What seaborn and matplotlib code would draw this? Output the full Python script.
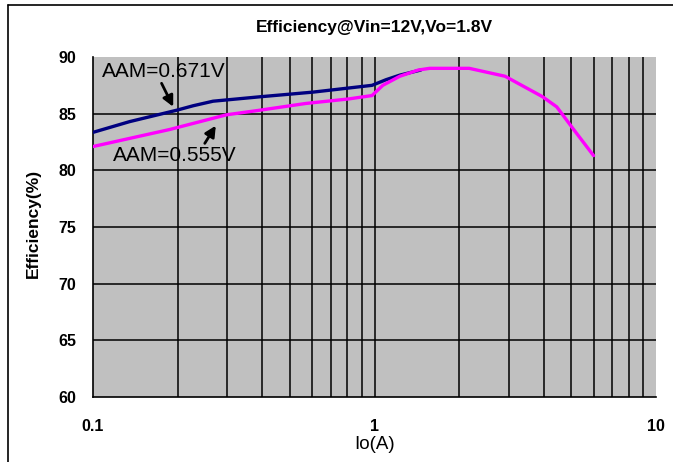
import numpy as np
import pandas as pd
import matplotlib
matplotlib.use("Agg")
import matplotlib.pyplot as plt
from matplotlib.lines import Line2D
import seaborn as sns

# Data
io_671 = [0.10, 0.135, 0.198, 0.227, 0.267, 0.396, 0.604, 0.98, 1.10, 1.23, 1.46]
eff_671 = [83.35, 84.3, 85.3, 85.7, 86.1, 86.5, 86.9, 87.5, 88.0, 88.4, 88.85]

io_555 = [0.10, 0.187, 0.298, 0.39, 0.57, 0.81, 0.98, 1.07, 1.23, 1.43, 1.57, 2.17, 2.91, 3.95, 4.44, 5.1, 6.0]
eff_555 = [82.1, 83.6, 84.9, 85.3, 85.9, 86.3, 86.6, 87.5, 88.3, 88.85, 89.0, 89.0, 88.3, 86.5, 85.6, 83.6, 81.3]

title = "Efficiency@Vin=12V,Vo=1.8V"
xlabel = "Io(A)"
ylabel = "Efficiency(%)"
xticks = [0.1, 1, 10]
xticklabels = ["0.1", "1", "10"]
yticks = [60, 65, 70, 75, 80, 85, 90]
label_671 = "AAM=0.671V"
label_555 = "AAM=0.555V"

sns.set_theme(style="white")
plt.rcParams["font.family"] = ["Liberation Sans", "DejaVu Sans"]
plt.rcParams["text.color"] = "black"
plt.rcParams["axes.labelcolor"] = "black"
plt.rcParams["xtick.color"] = "black"
plt.rcParams["ytick.color"] = "black"

df1 = pd.DataFrame({"io": io_671, "eff": eff_671})
df2 = pd.DataFrame({"io": io_555, "eff": eff_555})

fig = plt.figure(figsize=(6.73, 4.62), dpi=100)
ax = fig.add_axes([93 / 673, 1 - 397 / 462, (656 - 93) / 673, (397 - 57) / 462])
ax.set_facecolor("#C0C0C0")

ax.set_xscale("log")
ax.set_xlim(0.1, 10)
ax.set_ylim(60, 90)

# grid lines
for dec in [0.1, 1]:
    for m in range(1, 10):
        v = dec * m
        if v <= 0.1 or v >= 10:
            continue
        ax.axvline(v, color="black", lw=1.1, zorder=1)
for y in [65, 70, 75, 80, 85]:
    ax.axhline(y, color="black", lw=1.1, zorder=1)

sns.lineplot(data=df1, x="io", y="eff", ax=ax, color="#000080", lw=2.4, zorder=3)
sns.lineplot(data=df2, x="io", y="eff", ax=ax, color="#FF00FF", lw=2.4, zorder=4)

ax.set_xticks(xticks)
ax.set_xticklabels(xticklabels)
ax.xaxis.set_minor_locator(matplotlib.ticker.NullLocator())
ax.set_yticks(yticks)
ax.tick_params(axis="both", length=0, labelsize=11.5, colors="black")
ax.tick_params(axis="x", pad=16)
ax.tick_params(axis="y", pad=12)
for lab in ax.get_xticklabels() + ax.get_yticklabels():
    lab.set_fontweight("bold")

ax.set_xlabel(xlabel, fontsize=13.5, labelpad=1, color="black")
ax.set_ylabel(ylabel, fontsize=12.5, fontweight="bold", color="black")
ax.yaxis.set_label_coords(-0.093, 0.51)
ax.set_title(title, fontsize=12.5, fontweight="bold", pad=18, color="black")

for s in ["top", "right"]:
    ax.spines[s].set_visible(False)
for s in ["left", "bottom"]:
    ax.spines[s].set_color("black")
    ax.spines[s].set_linewidth(1.2)

# annotations
ax.text(0.1786, 88.7, label_671, fontsize=15, ha="center", va="center", zorder=6, color="black")
ax.text(0.195, 81.35, label_555, fontsize=15, ha="center", va="center", zorder=6, color="black")
arrow = dict(arrowstyle="-|>", color="black", lw=2.0, shrinkA=0, shrinkB=0, mutation_scale=16)
ax.annotate("", xy=(0.1927, 85.61), xytext=(0.1752, 87.68), arrowprops=arrow, zorder=6)
ax.annotate("", xy=(0.273, 83.94), xytext=(0.2495, 82.38), arrowprops=arrow, zorder=6)

# outer frame (left and top visible)
fig.add_artist(Line2D([8 / 673, 8 / 673], [0, 1 - 5 / 462], transform=fig.transFigure, color="black", lw=1.2))
fig.add_artist(Line2D([8 / 673, 1], [1 - 5 / 462, 1 - 5 / 462], transform=fig.transFigure, color="black", lw=1.2))

fig.savefig("out.png", dpi=100)
